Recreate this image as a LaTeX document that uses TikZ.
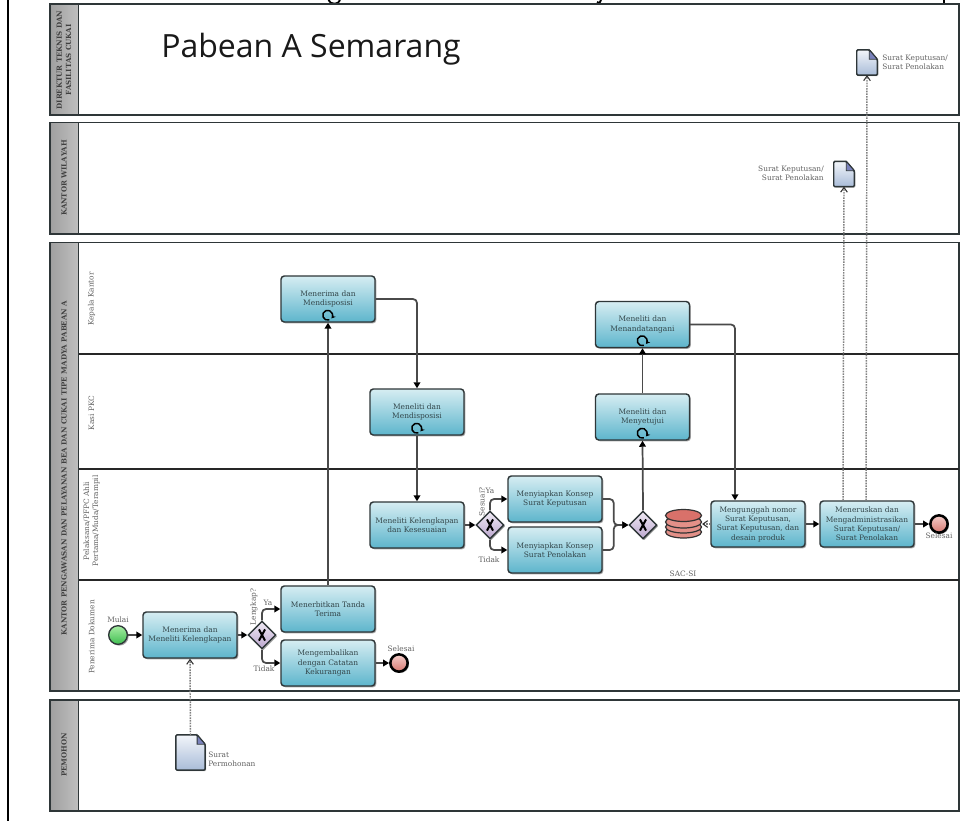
\documentclass[tikz,border=0pt]{standalone}
\usepackage{fontspec}
\setmainfont{DejaVu Serif}
\newfontfamily\titlefont{Open Sans}
\usetikzlibrary{shapes.geometric,arrows.meta,shadows}
\definecolor{edgec}{HTML}{2E3638}
\definecolor{flowc}{HTML}{4A4A4A}
\definecolor{txtc}{HTML}{33464A}
\definecolor{lblc}{HTML}{626262}
\newcommand{\tasksize}{\fontsize{5.6}{7}\selectfont}
\newcommand{\lblsize}{\fontsize{5.55}{6.8}\selectfont}
\tikzset{
  softshadow/.style={drop shadow={shadow xshift=1pt,shadow yshift=-1pt,opacity=.35,fill=black}},
  tbox/.style={rectangle,rounded corners=2.5pt,draw=edgec,line width=1.1pt,top color=tasktop,bottom color=taskbot,
    minimum width=70.5pt,minimum height=34.5pt,inner sep=0pt,align=center,font=\tasksize,text=txtc,softshadow},
  loopbox/.style={tbox,path picture={
    \draw[black,line width=1.1pt,-{Stealth[length=3pt,width=3.5pt]}]
      ([xshift=1pt,yshift=1.6pt]path picture bounding box.south) arc[start angle=-70,end angle=-400,radius=3.7pt];}},
  gate/.style={diamond,aspect=1,draw=edgec,line width=1.1pt,top color=gatetop,bottom color=gatebot,
    minimum width=21pt,minimum height=21pt,inner sep=0pt,softshadow,path picture={
    \draw[black,line width=1.5pt] (path picture bounding box.center) ++(-2.3pt,-4.2pt) -- ++(4.6pt,8.4pt);
    \draw[black,line width=1.5pt] (path picture bounding box.center) ++(2.3pt,-4.2pt) -- ++(-4.6pt,8.4pt);}},
  startev/.style={circle,draw=edgec,line width=1pt,top color=startt,bottom color=startb,minimum size=14pt,inner sep=0pt,softshadow},
  endev/.style={circle,draw=black,line width=1.9pt,top color=endt,bottom color=endb,minimum size=13pt,inner sep=0pt,softshadow},
  flow/.style={draw=flowc,line width=1.3pt,rounded corners=3pt,-{Triangle[length=4.5pt,width=5pt,fill=black,color=black]}},
  msg/.style={draw=gray,line width=1.1pt,dash pattern=on 1.2pt off .8pt,-{Straight Barb[length=3.5pt,width=5pt,color=black!80,line width=.8pt]}},
  pool/.style={draw=edgec,line width=1.2pt,fill=white},
  poolhead/.style={draw=edgec,line width=1.4pt,left color=gray!75,right color=gray!50},
  lane/.style={draw=black!85,line width=.95pt},
  poollabel/.style={rotate=90,font=\fontsize{5.3}{7}\selectfont\bfseries,text=black!75,align=center,inner sep=0pt},
  lanelabel/.style={rotate=90,font=\lblsize,text=lblc,align=center,inner sep=0pt},
  smalllabel/.style={font=\lblsize,text=lblc,inner sep=0pt,align=left},
  docnode/.style={rectangle,minimum width=#1,inner sep=0pt},
  dbband/.style={draw=black!80,line width=.9pt},
}
\definecolor{tasktop}{HTML}{D6EDF2}
\definecolor{taskbot}{HTML}{5DB5CC}
\definecolor{gatetop}{HTML}{EFEAF4}
\definecolor{gatebot}{HTML}{BBA6CE}
\definecolor{startt}{HTML}{A8EDA4}
\definecolor{startb}{HTML}{3FBE50}
\definecolor{endt}{HTML}{F4CFCB}
\definecolor{endb}{HTML}{D77770}
\definecolor{doct}{HTML}{F2F5FA}
\definecolor{docb}{HTML}{A9BCD8}
\definecolor{dbtop}{HTML}{D9716A}
\definecolor{dbside}{HTML}{E39088}
% paper-like page outlined document, drawn round an invisible named node
\newcommand{\docshape}[1]{%
  \path[draw=edgec,line width=1.1pt,top color=doct,bottom color=docb,drop shadow={shadow xshift=.8pt,shadow yshift=-.8pt,opacity=.3,fill=black},rounded corners=.8pt]
    (#1.north west) -- ([xshift=-6pt]#1.north east) -- ([yshift=-7pt]#1.north east) -- (#1.south east) -- (#1.south west) -- cycle;
  \path[draw=edgec,line width=.7pt,fill=docb!70!blue!60!gray]
    ([xshift=-6pt]#1.north east) -- ([xshift=-6pt,yshift=-7pt]#1.north east) -- ([yshift=-7pt]#1.north east) -- cycle;}
\begin{document}
\begin{tikzpicture}[x=0.75pt,y=-0.75pt]
\useasboundingbox (0,0) rectangle (966,821);
\fill[white] (0,0) rectangle (966,821);
% page rule and clipped title descenders
\draw[black,line width=.9pt] (8,0) -- (8,821);
\draw[black,line width=1.4pt] (328.5,0) .. controls (330,5) and (339,5) .. (340,0);
\draw[black,line width=1.4pt] (597,2) .. controls (598,4) and (600,3) .. (601,0);
\draw[black,line width=1.5pt] (944,0) -- (944,5);
% pools
\draw[pool] (50,4) rectangle (959,115);
\draw[poolhead] (50,4) rectangle (78.5,115);
\draw[pool] (50,122.5) rectangle (959,234);
\draw[poolhead] (50,122.5) rectangle (78.5,234);
\draw[pool] (50,242.5) rectangle (959,691);
\draw[poolhead] (50,242.5) rectangle (78.5,691);
\draw[pool] (50,700) rectangle (959,811);
\draw[poolhead] (50,700) rectangle (78.5,811);
\draw[lane] (78.5,354) -- (959,354);
\draw[lane] (78.5,469) -- (959,469);
\draw[lane] (78.5,580) -- (959,580);
% pool and lane labels
\node[poollabel] (p1) at (64,60) {DIREKTUR TEKNIS DAN\\FASILITAS CUKAI};
\node[poollabel] (p2) at (64,178) {KANTOR WILAYAH};
\node[poollabel] (p3) at (64,468) {KANTOR PENGAWASAN DAN PELAYANAN BEA DAN CUKAI TIPE MADYA PABEAN A};
\node[poollabel] (p4) at (64,755) {PEMOHON};
\node[lanelabel] (l1) at (91.5,299) {Kepala Kantor};
\node[lanelabel] (l2) at (91.5,413) {Kasi PKC};
\node[lanelabel] (l3) at (91.5,521) {Pelaksana/PFPC Ahli\\Pertama/Muda/Terampil};
\node[lanelabel] (l4) at (91.5,637) {Penerima Dokumen};
% title fragment
\node[font=\titlefont\fontsize{24}{28}\selectfont,text=black!90,anchor=base west,inner sep=0pt] (title) at (161,57) {Pabean A Semarang};
% tasks
\node[loopbox] (t1) at (328,299) {\raisebox{5pt}{\parbox{70pt}{\centering Menerima dan\\Mendisposisi}}};
\node[loopbox] (t2) at (417,412) {\raisebox{5pt}{\parbox{70pt}{\centering Meneliti dan\\Mendisposisi}}};
\node[loopbox] (t3) at (642.5,324.5) {\raisebox{5pt}{\parbox{70pt}{\centering Meneliti dan\\Menandatangani}}};
\node[loopbox] (t4) at (642.5,417) {\raisebox{5pt}{\parbox{70pt}{\centering Meneliti dan\\Menyetujui}}};
\node[tbox] (t5) at (417,525) {Meneliti Kelengkapan\\dan Kesesuaian};
\node[tbox] (t6) at (555,499) {Menyiapkan Konsep\\Surat Keputusan};
\node[tbox] (t7) at (555,550) {Menyiapkan Konsep\\Surat Penolakan};
\node[tbox] (t8) at (758,524) {Mengunggah nomor\\Surat Keputusan,\\Surat Keputusan, dan\\desain produk};
\node[tbox] (t9) at (867,524) {Meneruskan dan\\Mengadministrasikan\\Surat Keputusan/\\Surat Penolakan};
\node[tbox] (t10) at (190,635) {Menerima dan\\Meneliti Kelengkapan};
\node[tbox] (t11) at (328,609) {Menerbitkan Tanda\\Terima};
\node[tbox] (t12) at (328,663) {Mengembalikan\\dengan Catatan\\Kekurangan};
% gateways
\node[gate] (g1) at (490,525) {};
\node[gate] (g2) at (643,525) {};
\node[gate] (g3) at (262,635) {};
% events
\node[startev] (s1) at (118,635) {};
\node[endev] (e1) at (399,663) {};
\node[endev] (e2) at (939,524) {};
% data store
\node[rectangle,minimum width=27.5pt,minimum height=22pt,inner sep=0pt] (db) at (683.5,524) {};
\foreach \yy in {532,527,522} {\draw[dbband,fill=dbside] (683.5,\yy) ellipse[x radius=18,y radius=6];}
\draw[dbband,fill=dbtop] (683.5,515.5) ellipse[x radius=18,y radius=6];
% documents
\node[docnode=15pt,minimum height=18.5pt] (d1) at (867,62.5) {};
\docshape{d1}
\node[docnode=15pt,minimum height=18.5pt] (d2) at (844,174) {};
\docshape{d2}
\node[docnode=21.5pt,minimum height=26pt] (d3) at (190.5,752.5) {};
\docshape{d3}
% flows
\draw[flow] (s1) -- (t10);
\draw[flow] (t10) -- (g3);
\draw[flow] (g3.north) |- (t11.west);
\draw[flow] (g3.south) |- (t12.west);
\draw[flow] (t12) -- (e1);
\draw[flow] (t11.north) -- (t1.south);
\draw[flow] (t1.east) -| (t2.north);
\draw[flow] (t2.south) -- (t5.north);
\draw[flow] (t5) -- (g1);
\draw[flow] (g1.north) |- (t6.west);
\draw[flow] (g1.south) |- (t7.west);
\draw[flow] (t6.east) -- ++(11,0) |- (g2.west);
\draw[flow] (t7.east) -- ++(11,0) |- (g2.west);
\draw[flow] (g2.north) -- (t4.south);
\draw[flow] (t4.north) -- (t3.south);
\draw[flow] (t3.east) -| (t8.north -| 735,501);
\draw[flow] (t8) -- (t9);
\draw[flow] (t9) -- (e2);
\draw[msg] (t8.west) -- (db.east);
\draw[msg] (d3.north) -- (t10.south);
\draw[msg] (t9.north -| 843,501) -- (d2.south);
\draw[msg] (t9.north -| 866,501) -- (d1.south);
% small labels
\node[smalllabel] (a1) at (118,619.5) {Mulai};
\node[smalllabel] (a2) at (401,649) {Selesai};
\node[smalllabel] (a3) at (939,536) {Selesai};
\node[smalllabel] (a4) at (683,573.5) {SAC-SI};
\node[smalllabel] (a5) at (268,603) {Ya};
\node[smalllabel] (a6) at (264,669) {Tidak};
\node[smalllabel,rotate=90] (a7) at (254,607) {Lengkap?};
\node[smalllabel] (a8) at (490,491) {Ya};
\node[smalllabel] (a9) at (489,560) {Tidak};
\node[smalllabel,rotate=90] (a10) at (482,502) {Sesuai?};
\node[smalllabel,anchor=west] (a11) at (882,62.5) {Surat Keputusan/\\Surat Penolakan};
\node[smalllabel,anchor=east,align=right] (a12) at (824,173.5) {Surat Keputusan/\\Surat Penolakan};
\node[smalllabel,anchor=west] (a13) at (208,759.5) {Surat\\Permohonan};
\end{tikzpicture}
\end{document}
